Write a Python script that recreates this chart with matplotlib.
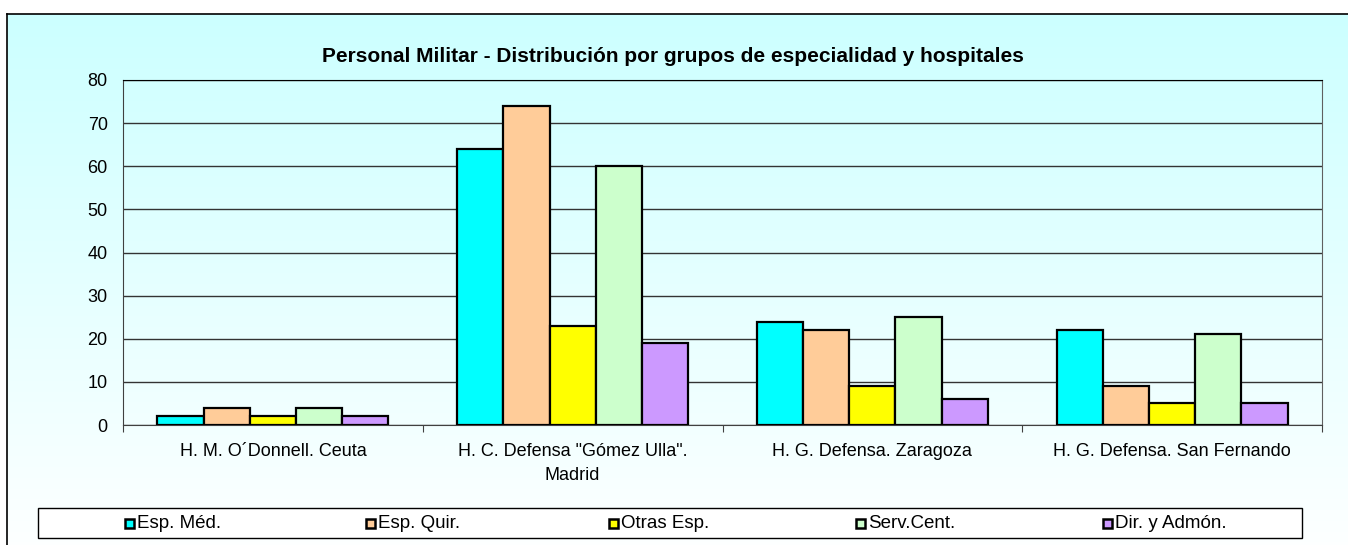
import numpy as np
import matplotlib
matplotlib.use('Agg')
import matplotlib.pyplot as plt
from matplotlib.patches import Rectangle

plt.rcParams['font.family'] = ['Liberation Sans', 'DejaVu Sans']

# data
hospitals = ['H. M. O\u00b4Donnell. Ceuta', 'H. C. Defensa "G\u00f3mez Ulla".\nMadrid',
             'H. G. Defensa. Zaragoza', 'H. G. Defensa. San Fernando']
groups = ['Esp. M\u00e9d.', 'Esp. Quir.', 'Otras Esp.', 'Serv.Cent.', 'Dir. y Adm\u00f3n.']
esp_med = [2, 64, 24, 22]
esp_quir = [4, 74, 22, 9]
otras_esp = [2, 23, 9, 5]
serv_cent = [4, 60, 25, 21]
dir_admon = [2, 19, 6, 5]
colors = ['#00FFFF', '#FFCC99', '#FFFF00', '#CCFFCC', '#CC99FF']

W, H = 1348, 545
fig = plt.figure(figsize=(W / 100, H / 100), dpi=100)

# chart area background: gradient cyan -> white, with a black frame
bg = fig.add_axes([7 / W, -20 / H, 1.0, (545 - 14 + 20) / H], zorder=0)
grad = np.linspace(0, 1, 256)[:, None, None]
top = np.array([0xCC, 0xFF, 0xFF]) / 255
img = top * (1 - grad) + np.ones(3) * grad
bg.imshow(img, aspect='auto', extent=[0, 1, 0, 1])
bg.set_xlim(0, 1)
bg.set_ylim(0, 1)
bg.set_xticks([])
bg.set_yticks([])
for side in ['right', 'bottom']:
    bg.spines[side].set_visible(False)
for side in ['top', 'left']:
    bg.spines[side].set_linewidth(1.2)

# plot area
ax = fig.add_axes([123 / W, (545 - 425) / H, (1322 - 123) / W, (425 - 80) / H], zorder=1)
ax.patch.set_alpha(0)

series = [esp_med, esp_quir, otras_esp, serv_cent, dir_admon]
x = np.arange(len(hospitals))
bw = 0.154
for i, vals in enumerate(series):
    ax.bar(x + (i - 2) * bw, vals, width=bw, color=colors[i], edgecolor='black',
           linewidth=1.6, zorder=3, label=groups[i])

ax.set_xlim(-0.5, 3.5)
ax.set_ylim(0, 80)
ax.set_yticks(range(0, 81, 10))
ax.yaxis.grid(True, color='#333333', linewidth=1.0, zorder=1)
ax.set_axisbelow(True)

ax.set_xticks([-0.5, 0.5, 1.5, 2.5, 3.5])
ax.set_xticklabels([])
ax.set_xticks(x, minor=True)
ax.set_xticklabels(hospitals, minor=True, fontsize=13, linespacing=1.5)
ax.tick_params(axis='x', which='minor', length=0, pad=13)
ax.tick_params(axis='x', which='major', length=5, color='#404040', direction='out')
ax.tick_params(axis='y', length=0, labelsize=13, pad=11)

ax.spines['top'].set_color('black')
ax.spines['right'].set_color('#606060')
ax.spines['left'].set_color('#404040')
ax.spines['bottom'].set_color('#404040')

fig.text(673 / W, 1 - 57 / H, 'Personal Militar - Distribuci\u00f3n por grupos de especialidad y hospitales',
         ha='center', va='center', fontsize=15, fontweight='bold')

# legend box along the bottom
fig.patches.append(Rectangle((38 / W, 1 - 538 / H), (1302 - 38) / W, 30 / H,
                             transform=fig.transFigure, facecolor='white',
                             edgecolor='black', linewidth=1.0, zorder=2))
leg_x = [125, 366, 609, 856, 1103]
for px, c, name in zip(leg_x, colors, groups):
    fig.patches.append(Rectangle((px / W, 1 - 528 / H), 9 / W, 9 / H,
                                 transform=fig.transFigure, facecolor=c,
                                 edgecolor='black', linewidth=1.8, zorder=3))
    fig.text((px + 12) / W, 1 - 524 / H, name, ha='left', va='center',
             fontsize=13.5, zorder=4)

fig.savefig('out.png', dpi=100)
